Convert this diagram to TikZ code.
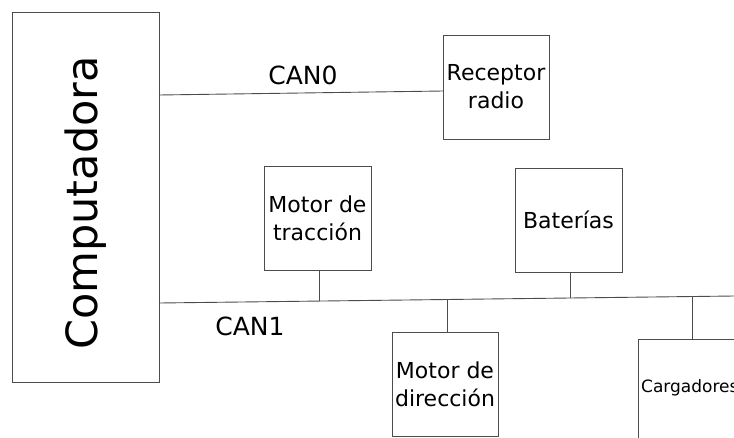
\documentclass[tikz,border=0pt]{standalone}
\usepackage{fontspec}
\setmainfont{DejaVu Sans}
\begin{document}
\begin{tikzpicture}[x=1pt,y=1pt,
  box/.style={draw=black!70,line width=0.9pt,minimum width=#1,inner sep=0pt,align=center},
  box/.default=106pt,
  wire/.style={draw=black!70,line width=0.9pt},
  lbl/.style={font=\fontsize{22}{28}\selectfont},
  canlbl/.style={font=\fontsize{25}{29}\selectfont,inner sep=0pt}]
\useasboundingbox (0,0) rectangle (734,-437);
\clip (0,0) rectangle (734,-437);
% computer
\node[box=147pt,minimum height=370pt] (comp) at (85.5,-197) {};
\node[rotate=90,font=\fontsize{43}{50}\selectfont] (comptxt) at (86,-203) {Computadora};
% CAN0
\node[box,minimum height=104pt,lbl] (rec) at (496,-87) {Receptor\\radio};
\coordinate (c0a) at (159,-95);
\coordinate (c0b) at (443,-91);
\draw[wire] (c0a) -- (c0b);
\node[canlbl] (can0) at (303,-75) {CAN0};
% CAN1 bus
\coordinate (busa) at (159,-303);
\coordinate (busb) at (734,-296);
\draw[wire] (busa) -- (busb);
\node[canlbl] (can1) at (250,-326) {CAN1};
% devices
\node[box=107pt,minimum height=104pt,lbl] (mt) at (317.5,-218) {Motor de\\tracción};
\node[box=107pt,minimum height=104pt,lbl] (bat) at (568.5,-220) {Baterías};
\node[box,minimum height=104pt,lbl] (md) at (445,-384) {Motor de\\dirección};
\node[box=160pt,minimum height=150pt,anchor=north west] (carg) at (638,-339) {};
\node[anchor=west,inner sep=0pt,font=\fontsize{17}{20}\selectfont] (cargtxt) at (641,-388) {Cargadores};
% taps
\coordinate (t1) at (319,-301);
\coordinate (t2) at (570,-298);
\coordinate (t3) at (447,-299.5);
\coordinate (t4) at (692,-296.5);
\draw[wire] (t1) -- (t1 |- mt.south);
\draw[wire] (t2) -- (t2 |- bat.south);
\draw[wire] (t3) -- (t3 |- md.north);
\draw[wire] (t4) -- (t4 |- carg.north);
\end{tikzpicture}
\end{document}
